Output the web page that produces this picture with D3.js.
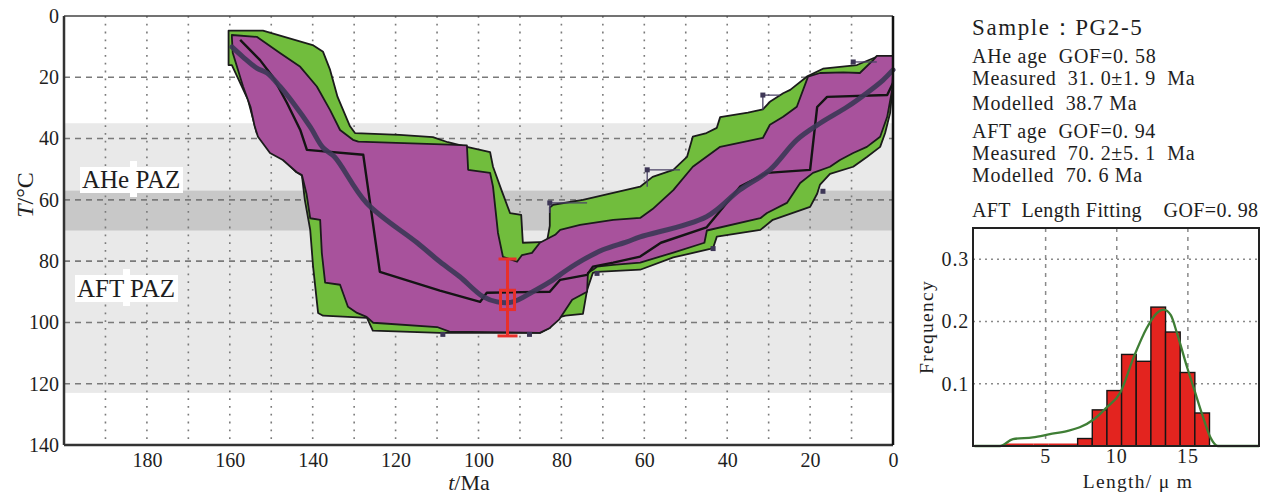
<!DOCTYPE html>
<html>
<head>
<meta charset="utf-8">
<script src="https://cdn.jsdelivr.net/npm/d3@7"></script>
<style>
  body { margin: 0; background: #fff; }
  svg text { font-family: "Liberation Serif", "Times New Roman", serif; fill: #1e1e1e; }
</style>
</head>
<body>
<div id="chart"></div>
<script>
// ---- data: thermal history envelopes, [t (Ma), T (°C)] ----
var acceptableUpper = [[160.3,4.8],[152,4.8],[140,9.5],[137.5,11.7],[135.8,17.6],[134,26.4],[131,36],[129.8,38.2],[119,38.8],[111,39.5],[107.4,41.2],[102.8,42.7],[97.2,44.4],[96.5,49.2],[94.3,57.4],[92.4,64.3],[89.7,64.9],[89.3,74],[83.5,73.7],[82.8,68.5],[82.8,62.5],[82,61.6],[74.8,60],[67.5,57.7],[61,55.7],[58,52.5],[53,50.2],[49.7,46],[48.3,39.4],[45,38.2],[42.5,36.5],[41.7,33],[35,31.5],[31.4,30.5],[29.7,28],[26.5,25.2],[24.8,24.1],[20.8,19.8],[16.9,17.2],[8.7,16],[3.9,13.3],[0,13]];
var acceptableLower = [[160.3,16],[159.5,16],[155.6,27.4],[153.5,38.2],[146.2,48],[143.9,51],[142.6,52],[141.9,60],[140.6,69.8],[139.9,81.9],[138.7,96.9],[137.5,97.8],[130.3,98.3],[126.9,98.5],[125.5,102.7],[109.3,103.4],[85.2,103.4],[82.8,101.8],[81.1,98.5],[79,97.8],[74.8,97.2],[73.8,89.4],[72.4,83.8],[71.4,83.5],[61,82.8],[53,78.8],[44.1,76],[43.4,75.7],[42.5,72],[32,69.8],[29,66.5],[20,62.3],[18.3,58],[17.6,55],[15.2,51.5],[9.6,49.2],[6.3,46],[3.1,42.7],[1.9,38.2],[0.7,31.7],[0,21.9]];

var goodUpper = [[159.5,6.2],[153.5,6.8],[147.9,12.1],[143,16.6],[139,23],[135.8,30.7],[133.4,37.2],[130.3,40.4],[129,41],[107,42],[102.8,42.2],[102.5,50.2],[97.2,51.2],[96.5,55.7],[95.3,70.8],[94.1,78.6],[90.7,80.2],[89.5,78],[87.1,77.3],[85.2,74],[81.5,71.4],[80.3,69.8],[75.5,68.2],[67.5,66.5],[61,65.9],[58,63],[53,56.8],[48.3,49.2],[41.7,42.7],[31.4,39.8],[29.7,35.5],[26.5,32.9],[23.2,29.6],[20.5,19.8],[17.6,18.6],[12,18.4],[8,18.6],[4.8,14.4],[3.9,13],[0,13]];
var goodLower = [[159.5,6.8],[159.3,12],[156.8,23],[155,29.7],[154,36],[153.2,39.4],[150.3,44.7],[147.2,47],[143.9,50.9],[142.6,51.9],[141.5,58],[140.6,66],[138.2,66.5],[137.8,77.3],[137,87],[133.4,87.7],[131.5,94.9],[129.3,96.9],[127,98.2],[125.4,100.1],[110,101.5],[107,103],[85.2,103.4],[82.8,101.8],[80.5,99],[77.4,92.6],[73.8,90],[73.6,83.8],[72.4,82.8],[71.4,81.8],[67.5,81.2],[61,80.5],[53,77.2],[45.5,74],[44.9,70],[32,66],[30.4,64.3],[25.6,61],[22.4,54.5],[19.3,51.2],[15.2,49.2],[12.8,47],[9.6,44.7],[6.3,42.7],[3.1,39.4],[1.4,32.9],[0.2,24],[0,18.6]];

// weighted mean path and best fit path
var meanPath = [[159.5,10.1],[156.8,13.4],[153.5,17],[151,18.6],[147.9,23],[144.7,28.4],[140.6,36.2],[137.5,43],[134.7,46],[127,61],[114.8,74],[109.3,80.2],[104.5,85.1],[98.9,91.6],[95.5,93.3],[91.7,93.3],[86.9,90],[82.8,86.8],[78.6,82.8],[74.8,79.6],[70,76.3],[64.2,73.7],[61,72.1],[45,65.5],[37,56.8],[29.7,50.2],[23.2,40.4],[17.6,35],[11.1,29.7],[6.3,25.1],[2.4,20.9],[0,17.6]];
var bestPath = [[157.5,7.8],[152.7,14.4],[149.6,19.9],[146.2,28.4],[143,37.2],[141.4,43.7],[127.8,45.3],[123.8,83.5],[109.3,89.6],[99.6,93.3],[98,90.3],[82.8,90],[80.3,86.1],[73.8,84.5],[72.4,81.8],[67.5,80.5],[61,78.5],[56,74],[45,69],[36.9,55.7],[30.4,51.2],[20,50.2],[18.3,29.7],[15.9,26.4],[1.4,25.8],[0,21.9]];

// constraint marks (thin lines with small squares)
var constraintLines = [
  [[82.8,64.3],[82.8,61],[73.8,61]],
  [[59.3,55.7],[59.3,50.2],[51.4,50.2]],
  [[31.4,30.6],[31.4,25.8],[27.3,25.8]],
  [[9.6,15],[3.9,15]]
];
var constraintDots = [[82.8,61],[59.3,50.2],[31.4,25.8],[9.6,15],[108.6,103.9],[87.7,103.9],[71.4,84],[43.4,75.9],[16.9,57.2]];

// AFT age measurement
var aftAge = 93;
var aftErr = [79.3, 104.4];
var aftBox = [89.5, 95.8];

// partial annealing zones [top, bottom] in °C
var pazNames = ["AHe PAZ", "AFT PAZ"];
var pazTop = [35, 57];
var pazBottom = [70, 123];

var xTicks = [180, 160, 140, 120, 100, 80, 60, 40, 20, 0];
var yTicks = [0, 20, 40, 60, 80, 100, 120, 140];

// info text
var infoTitle = "Sample：PG2-5";
var infoLines = ["AHe age  GOF=0. 58", "Measured  31. 0±1. 9  Ma", "Modelled  38.7 Ma",
                 "AFT age  GOF=0. 94", "Measured  70. 2±5. 1  Ma", "Modelled  70. 6 Ma"];
var histTitle = "AFT  Length Fitting    GOF=0. 98";

// track length histogram
var binEdges = [2.1, 3.13, 4.16, 5.19, 6.22, 7.25, 8.28, 9.31, 10.34, 11.37, 12.4, 13.43, 14.46, 15.49, 16.52];
var binFreq = [0, 0, 0, 0, 0, 0.012, 0.058, 0.089, 0.147, 0.136, 0.223, 0.183, 0.118, 0.053];
var fitLen = [0, 1.8, 2.7, 4.1, 5.3, 6.5, 7.4, 8.4, 9.3, 10.25, 11.2, 12.1, 12.8, 13.3, 13.8, 14.25, 14.95, 15.4, 16, 16.6, 17.1, 20];
var fitFreq = [0, 0, 0.011, 0.014, 0.019, 0.024, 0.03, 0.043, 0.062, 0.086, 0.143, 0.189, 0.213, 0.219, 0.21, 0.18, 0.126, 0.094, 0.051, 0.013, 0, 0];
var histXTicks = [5, 10, 15];
var histYTicks = [0.1, 0.2, 0.3];

// ---- canvas ----
var svgWidth = 1271;
var svgHeight = 495;

var svg = d3.select("#chart")
  .append("svg")
  .attr("width", svgWidth)
  .attr("height", svgHeight);

svg.append("rect").attr("width", svgWidth).attr("height", svgHeight).attr("fill", "#fff");

// main plot area
var plot = { left: 64, right: 893, top: 16, bottom: 445 };

var x = d3.scaleLinear().domain([200, 0]).range([plot.left, plot.right]);
var y = d3.scaleLinear().domain([0, 140]).range([plot.top, plot.bottom]);

var main = svg.append("g");

// PAZ bands, overlap darker
pazNames.forEach(function (name, i) {
  main.append("rect")
    .attr("x", plot.left)
    .attr("width", plot.right - plot.left)
    .attr("y", y(pazTop[i]))
    .attr("height", y(pazBottom[i]) - y(pazTop[i]))
    .attr("fill", "#e9e9e9");
});
main.append("rect")
  .attr("x", plot.left)
  .attr("width", plot.right - plot.left)
  .attr("y", y(d3.max(pazTop)))
  .attr("height", y(d3.min(pazBottom)) - y(d3.max(pazTop)))
  .attr("fill", "#c8c8c8");

// grid: dotted verticals every 10 Ma, dashed horizontals every 20 °C
main.selectAll(".vgrid")
  .data(x.ticks(20).filter(d => d > 0 && d < 200))
  .enter()
  .append("line")
  .attr("x1", d => x(d)).attr("x2", d => x(d))
  .attr("y1", plot.top).attr("y2", plot.bottom)
  .attr("stroke", "#7a7a7a")
  .attr("stroke-width", 1.6)
  .attr("stroke-dasharray", "1.8,6");

main.selectAll(".hgrid")
  .data(yTicks.filter(d => d > 0 && d < 140))
  .enter()
  .append("line")
  .attr("x1", plot.left).attr("x2", plot.right)
  .attr("y1", d => y(d)).attr("y2", d => y(d))
  .attr("stroke", "#7a7a7a")
  .attr("stroke-width", 1.6)
  .attr("stroke-dasharray", "6,5");

// PAZ labels with white boxes
var pazLabelPos = [{ x: 80, y: 167, w: 103, h: 26, nx: 130 }, { x: 75, y: 275, w: 103, h: 27, nx: 123 }];
pazNames.forEach(function (name, i) {
  var p = pazLabelPos[i];
  main.append("rect").attr("x", p.x).attr("y", p.y).attr("width", p.w).attr("height", p.h).attr("fill", "#fff");
  main.append("rect").attr("x", p.nx).attr("y", p.y - 6).attr("width", 7).attr("height", p.h + 10).attr("fill", "#fff");
  main.append("text")
    .attr("x", p.x + 2)
    .attr("y", p.y + p.h - 5)
    .style("font-size", "25px")
    .text(name);
});

// envelopes
var line = d3.line().x(d => x(d[0])).y(d => y(d[1]));

main.append("path")
  .attr("d", line(acceptableUpper.concat(acceptableLower.slice().reverse())) + "Z")
  .attr("fill", "#71bd3d")
  .attr("stroke", "#1b1b1b")
  .attr("stroke-width", 1.8)
  .attr("stroke-linejoin", "round");

main.append("path")
  .attr("d", line(goodUpper.concat(goodLower.slice().reverse())) + "Z")
  .attr("fill", "#a8529c")
  .attr("stroke", "#1b1b1b")
  .attr("stroke-width", 1.8)
  .attr("stroke-linejoin", "round");

// constraint marks
constraintLines.forEach(function (pts) {
  main.append("path")
    .attr("d", line(pts))
    .attr("fill", "none")
    .attr("stroke", "#4b4366")
    .attr("stroke-width", 1.3);
});
main.selectAll(".cdot")
  .data(constraintDots)
  .enter()
  .append("rect")
  .attr("x", d => x(d[0]) - 2.5)
  .attr("y", d => y(d[1]) - 2.5)
  .attr("width", 5)
  .attr("height", 5)
  .attr("fill", "#3d3656");

// best fit path (thin black) and mean path (thick)
main.append("path")
  .attr("d", line(bestPath))
  .attr("fill", "none")
  .attr("stroke", "#141414")
  .attr("stroke-width", 2.4)
  .attr("stroke-linejoin", "round");

main.append("path")
  .attr("d", d3.line().x(d => x(d[0])).y(d => y(d[1])).curve(d3.curveCatmullRom)(meanPath))
  .attr("fill", "none")
  .attr("stroke", "#3e3858")
  .attr("stroke-width", 5)
  .attr("stroke-linecap", "round")
  .attr("opacity", 0.92);

// AFT age error bar
var ex = x(aftAge);
var err = main.append("g").attr("stroke", "#e8302b").attr("stroke-width", 3).attr("fill", "none");
err.append("line").attr("x1", ex).attr("x2", ex).attr("y1", y(aftErr[0])).attr("y2", y(aftErr[1]));
err.append("line").attr("x1", ex - 9).attr("x2", ex + 9).attr("y1", y(aftErr[0])).attr("y2", y(aftErr[0]));
err.append("line").attr("x1", ex - 10).attr("x2", ex + 10).attr("y1", y(aftErr[1])).attr("y2", y(aftErr[1]));
err.append("rect").attr("x", ex - 7).attr("y", y(aftBox[0])).attr("width", 14).attr("height", y(aftBox[1]) - y(aftBox[0]));

// axes
var leftAxis = d3.axisLeft(y).tickValues(yTicks).tickSize(0).tickPadding(5);
var bottomAxis = d3.axisBottom(x).tickValues(xTicks).tickSize(0).tickPadding(8);

var gy = main.append("g").attr("transform", `translate(${plot.left}, 0)`).call(leftAxis);
var gx = main.append("g").attr("transform", `translate(0, ${plot.bottom})`).call(bottomAxis);
[gy, gx].forEach(function (a) {
  a.select(".domain").remove();
  a.selectAll("text")
    .style("font-size", "20px")
    .style("font-family", "'Liberation Serif', 'Times New Roman', serif")
    .attr("fill", "#1e1e1e");
});

// frame
main.append("line").attr("x1", plot.left).attr("x2", plot.right).attr("y1", plot.top).attr("y2", plot.top)
  .attr("stroke", "#444").attr("stroke-width", 1.5);
main.append("line").attr("x1", plot.left).attr("x2", plot.left).attr("y1", plot.top).attr("y2", plot.bottom)
  .attr("stroke", "#333").attr("stroke-width", 2.5);
main.append("line").attr("x1", plot.left).attr("x2", plot.right).attr("y1", plot.bottom).attr("y2", plot.bottom)
  .attr("stroke", "#333").attr("stroke-width", 2.5);
main.append("line").attr("x1", plot.right).attr("x2", plot.right).attr("y1", plot.top).attr("y2", plot.bottom)
  .attr("stroke", "#111").attr("stroke-width", 2.5);

// axis titles
var yTitle = main.append("text")
  .attr("transform", "translate(33, 195) rotate(-90)")
  .style("text-anchor", "middle")
  .style("font-size", "24px");
yTitle.append("tspan").style("font-style", "italic").text("T");
yTitle.append("tspan").text("/°C");

var xTitle = main.append("text")
  .attr("x", 469)
  .attr("y", 490)
  .style("text-anchor", "middle")
  .style("font-size", "22px");
xTitle.append("tspan").style("font-style", "italic").text("t");
xTitle.append("tspan").text("/Ma");

// ---- info text ----
var info = svg.append("g");
info.append("text")
  .attr("x", 972).attr("y", 35)
  .style("font-size", "23px")
  .style("letter-spacing", "1.6px")
  .text(infoTitle);
var infoY = [63, 85, 110, 138, 160, 182];
info.selectAll(".line")
  .data(infoLines)
  .enter()
  .append("text")
  .attr("x", 972)
  .attr("y", (d, i) => infoY[i])
  .attr("xml:space", "preserve")
  .style("white-space", "pre")
  .style("font-size", "20px")
  .style("letter-spacing", "0.7px")
  .text(d => d);
info.append("text")
  .attr("x", 972).attr("y", 217)
  .attr("xml:space", "preserve")
  .style("white-space", "pre")
  .style("font-size", "20px")
  .style("letter-spacing", "0.4px")
  .text(histTitle);

// ---- histogram ----
var hp = { left: 973, right: 1259, top: 228, bottom: 446 };
var hx = d3.scaleLinear().domain([0, 20]).range([974.5, hp.right]);
var hy = d3.scaleLinear().domain([0, 0.35]).range([hp.bottom, hp.top]);

var hist = svg.append("g");

hist.selectAll(".hv")
  .data(histXTicks)
  .enter()
  .append("line")
  .attr("x1", d => hx(d)).attr("x2", d => hx(d))
  .attr("y1", hp.top).attr("y2", hp.bottom)
  .attr("stroke", "#8a8a8a")
  .attr("stroke-width", 1.5)
  .attr("stroke-dasharray", "4,5");
hist.selectAll(".hh")
  .data(histYTicks)
  .enter()
  .append("line")
  .attr("x1", hp.left).attr("x2", hp.right)
  .attr("y1", d => hy(d)).attr("y2", d => hy(d))
  .attr("stroke", "#8a8a8a")
  .attr("stroke-width", 1.5)
  .attr("stroke-dasharray", "2,4");

// bars
hist.selectAll(".bar")
  .data(binFreq)
  .enter()
  .append("rect")
  .attr("x", (d, i) => hx(binEdges[i]))
  .attr("width", (d, i) => hx(binEdges[i + 1]) - hx(binEdges[i]))
  .attr("y", d => d > 0 ? hy(d) : hy(0) - 2.5)
  .attr("height", d => d > 0 ? hy(0) - hy(d) : 2.5)
  .attr("fill", "#e3241f")
  .attr("stroke", d => d > 0 ? "#151515" : "none")
  .attr("stroke-width", 1.4);

// fitted curve
hist.append("path")
  .datum(fitLen.map((d, i) => [d, fitFreq[i]]))
  .attr("d", d3.line().x(d => hx(d[0])).y(d => hy(d[1])).curve(d3.curveMonotoneX))
  .attr("fill", "none")
  .attr("stroke", "#3f7e35")
  .attr("stroke-width", 2.3);

// frame
hist.append("rect")
  .attr("x", hp.left).attr("y", hp.top)
  .attr("width", hp.right - hp.left).attr("height", hp.bottom - hp.top)
  .attr("fill", "none")
  .attr("stroke", "#222")
  .attr("stroke-width", 2);

// tick labels
hist.selectAll(".hyl")
  .data(histYTicks)
  .enter()
  .append("text")
  .attr("x", 969)
  .attr("y", d => hy(d))
  .attr("dy", "0.35em")
  .style("text-anchor", "end")
  .style("font-size", "20px")
  .style("letter-spacing", "0.8px")
  .text(d => d.toFixed(1));
hist.selectAll(".hxl")
  .data(histXTicks)
  .enter()
  .append("text")
  .attr("x", d => hx(d))
  .attr("y", 463)
  .style("text-anchor", "middle")
  .style("font-size", "20px")
  .style("letter-spacing", "1px")
  .text(d => d);

hist.append("text")
  .attr("transform", "translate(933, 327) rotate(-90)")
  .style("text-anchor", "middle")
  .style("font-size", "19.5px")
  .style("letter-spacing", "1.3px")
  .text("Frequency");
hist.append("text")
  .attr("x", 1138)
  .attr("y", 488)
  .style("text-anchor", "middle")
  .style("font-size", "19.5px")
  .style("letter-spacing", "1.3px")
  .text("Length/ μ m");
</script>
</body>
</html>
